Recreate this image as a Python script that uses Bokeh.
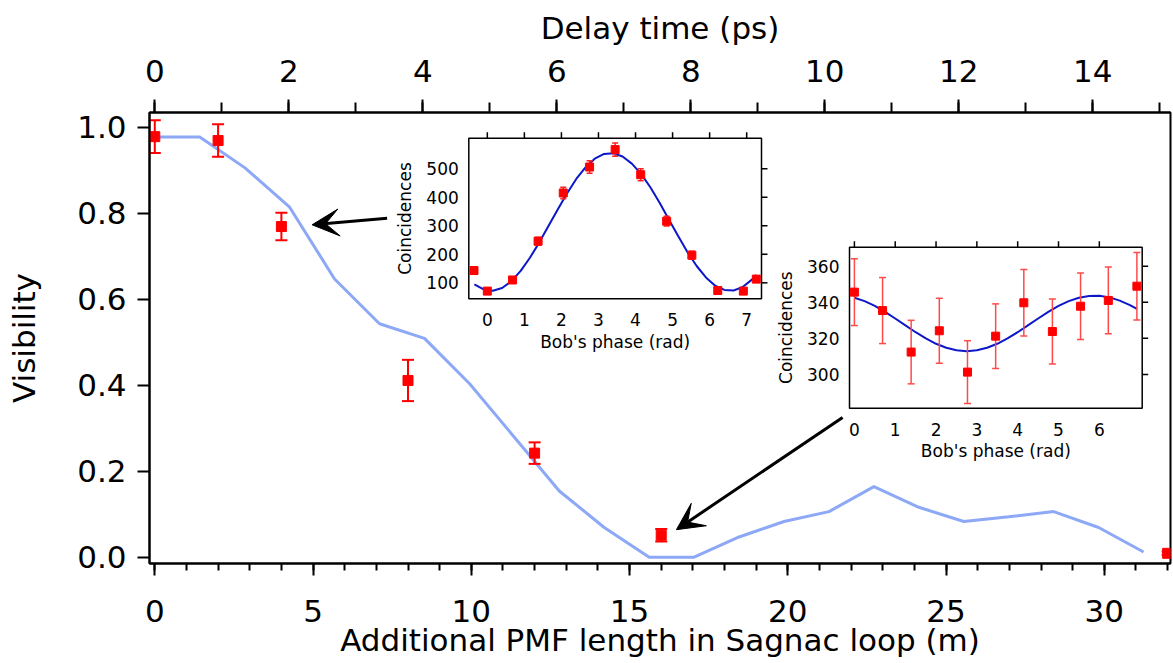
import math
from bokeh.plotting import figure
from bokeh.models import (LinearAxis, Range1d, FixedTicker, PrintfTickFormatter,
                          Arrow, VeeHead)
from bokeh.core.properties import value
from bokeh.embed import file_html
from bokeh.resources import INLINE

# ---------------- data ----------------
pmf_length_m = [0, 2, 4, 8, 12, 16, 32]
visibility = [0.978, 0.969, 0.769, 0.411, 0.242, 0.051, 0.009]
visibility_err = [0.038, 0.038, 0.032, 0.048, 0.025, 0.0145, 0.004]

theory_length_m = [0.0, 1.42, 2.84, 4.26, 5.68, 7.10, 8.52, 9.94, 11.36, 12.78,
                   14.20, 15.62, 17.04, 18.46, 19.88, 21.30, 22.72, 24.14,
                   25.56, 26.98, 28.40, 29.82, 31.24]
theory_visibility = [0.977, 0.977, 0.906, 0.814, 0.647, 0.543, 0.509, 0.404,
                     0.279, 0.154, 0.069, 0.0, 0.0, 0.047, 0.083, 0.106, 0.164,
                     0.116, 0.083, 0.094, 0.106, 0.069, 0.012]

delay_ps_per_m = 0.4724

main_x_ticks = [0, 5, 10, 15, 20, 25, 30]
main_x_minor = list(range(0, 33))
main_y_ticks = [0.0, 0.2, 0.4, 0.6, 0.8, 1.0]
delay_ticks = [0, 2, 4, 6, 8, 10, 12, 14]
delay_minor = list(range(0, 16))

# inset 1 (high visibility fringe)
inset1_phase = [-0.36, 0.0, 0.68, 1.37, 2.05, 2.76, 3.45, 4.14, 4.84, 5.52, 6.22, 6.91, 7.26]
inset1_counts = [143, 71, 110, 246, 415, 506, 567, 479, 316, 197, 73, 71, 113]
inset1_err = [12, 8, 10, 14, 20, 22, 23, 21, 17, 14, 8, 8, 10]
inset1_fit_phase = [-0.35, -0.1, 0.15, 0.4, 0.65, 0.9, 1.15, 1.4, 1.65, 1.9, 2.15,
                    2.4, 2.65, 2.9, 3.15, 3.4, 3.65, 3.9, 4.15, 4.4, 4.65, 4.9,
                    5.15, 5.4, 5.65, 5.9, 6.15, 6.4, 6.65, 6.9, 7.15, 7.26]
inset1_fit_counts = [95, 77, 72, 82, 106, 142, 188, 241, 299, 357, 413, 464, 505,
                     535, 552, 554, 543, 518, 482, 435, 381, 322, 264, 208, 159,
                     119, 90, 75, 73, 86, 112, 128]
inset1_x_ticks = [0, 1, 2, 3, 4, 5, 6, 7]
inset1_y_ticks = [100, 200, 300, 400, 500]
inset1_xlim = (-0.5, 7.4)
inset1_ylim = (44, 607)

# inset 2 (low visibility fringe)
inset2_phase = [0.0, 0.69, 1.39, 2.08, 2.77, 3.46, 4.15, 4.85, 5.54, 6.22, 6.92]
inset2_counts = [345.6, 335.4, 312.4, 324.2, 301.3, 321.2, 339.7, 323.8, 337.8, 341.0, 348.9]
inset2_err = [18.5, 18.3, 17.6, 18.0, 17.4, 17.9, 18.4, 18.0, 18.4, 18.5, 18.7]
inset2_fit_phase = [0.0, 0.25, 0.5, 0.75, 1.0, 1.25, 1.5, 1.75, 2.0, 2.25, 2.5,
                    2.75, 3.0, 3.25, 3.5, 3.75, 4.0, 4.25, 4.5, 4.75, 5.0, 5.25,
                    5.5, 5.75, 6.0, 6.25, 6.5, 6.75, 6.92]
inset2_fit_counts = [342.5, 340.6, 338.0, 334.7, 331.0, 327.2, 323.4, 320.0,
                     317.0, 314.8, 313.4, 312.9, 313.4, 314.8, 317.0, 320.0,
                     323.4, 327.2, 331.0, 334.7, 338.0, 340.6, 342.5, 343.5,
                     343.6, 342.7, 340.9, 338.4, 336.3]
inset2_x_ticks = [0, 1, 2, 3, 4, 5, 6]
inset2_y_ticks = [300, 320, 340, 360]
inset2_xlim = (-0.12, 7.05)
inset2_ylim = (281.3, 370.5)

# arrows (main data coordinates)
arrow1 = dict(x_start=7.34, y_start=0.788, x_end=4.97, y_end=0.773)
arrow2 = dict(x_start=21.73, y_start=0.325, x_end=16.48, y_end=0.064)

# ---------------- layout ----------------
W, H = 1173, 663
FL, FR, FT, FB = 149, 1170, 112, 563          # main frame in canvas px
MAIN_X = (-0.167, 32.09)
MAIN_Y = (-0.0147, 1.0342)
INSET1_BOX = (468.3, 761.0, 137.7, 298.3)     # left, right, top, bottom (canvas px)
INSET2_BOX = (849.0, 1141.7, 246.7, 407.7)

FONT = "DejaVu Sans"
RED = "#ff0000"

p = figure(width=W, height=H, output_backend="svg", toolbar_location=None,
           x_range=Range1d(*MAIN_X), y_range=Range1d(*MAIN_Y),
           min_border_left=FL, min_border_right=W - FR,
           min_border_top=FT, min_border_bottom=H - FB)
p.xgrid.visible = False
p.ygrid.visible = False
p.outline_line_color = "black"
p.outline_line_width = 2
p.background_fill_color = "white"
p.border_fill_color = "white"

p.extra_x_ranges = {"delay": Range1d(MAIN_X[0] * delay_ps_per_m, MAIN_X[1] * delay_ps_per_m)}


def style_axis(ax, label, tick_out, minor_out, label_standoff, title_standoff):
    ax.axis_label = label
    ax.axis_line_width = 2
    ax.axis_line_color = "black"
    ax.major_tick_out = tick_out
    ax.major_tick_in = 0
    ax.minor_tick_out = minor_out
    ax.minor_tick_in = 0
    ax.major_tick_line_width = 2
    ax.minor_tick_line_width = 2
    ax.major_label_text_font = FONT
    ax.major_label_text_font_size = "31px"
    ax.major_label_text_color = "black"
    ax.major_label_standoff = label_standoff
    ax.axis_label_text_font = FONT
    ax.axis_label_text_font_size = "31px"
    ax.axis_label_text_font_style = "normal"
    ax.axis_label_text_color = "black"
    ax.axis_label_standoff = title_standoff


xb = p.xaxis[0]
xb.ticker = FixedTicker(ticks=main_x_ticks, minor_ticks=main_x_minor)
style_axis(xb, "Additional PMF length in Sagnac loop (m)", 12, 7, 24, -3)

yl = p.yaxis[0]
yl.ticker = FixedTicker(ticks=main_y_ticks, minor_ticks=[])
yl.formatter = PrintfTickFormatter(format="%.1f")
style_axis(yl, "Visibility", 12, 0, 11, 32)

xt = LinearAxis(x_range_name="delay")
xt.ticker = FixedTicker(ticks=delay_ticks, minor_ticks=delay_minor)
style_axis(xt, "Delay time (ps)", 13, 10, 18, 11)
p.add_layout(xt, "above")

# ---------------- main glyphs ----------------
p.line(theory_length_m, theory_visibility, line_color="#8ca8f6", line_width=3)

lo = [v - e for v, e in zip(visibility, visibility_err)]
hi = [v + e for v, e in zip(visibility, visibility_err)]
p.segment(x0=pmf_length_m, y0=lo, x1=pmf_length_m, y1=hi, line_color=RED, line_width=2)
p.scatter(pmf_length_m + pmf_length_m, lo + hi, marker="dash", size=12,
          line_color=RED, line_width=2)
p.scatter(pmf_length_m, visibility, marker="square", size=10,
          fill_color=RED, line_color=RED)


# ---------------- insets ----------------
def extend(lo_v, hi_v, p_lo, p_hi, f_lo, f_hi):
    scale = (hi_v - lo_v) / (p_hi - p_lo)
    return Range1d(lo_v - (p_lo - f_lo) * scale, hi_v + (f_hi - p_hi) * scale)


def draw_inset(name, box, xlim, ylim, xticks, yticks, phase, counts, err,
               fit_x, fit_y, err_color, cap):
    bl, br, bt, bb = box
    xr = extend(xlim[0], xlim[1], bl, br, FL, FR)
    scale = (ylim[1] - ylim[0]) / (bb - bt)
    yr = Range1d(ylim[0] - (FB - bb) * scale, ylim[1] + (bt - FT) * scale)
    p.extra_x_ranges[name + "x"] = xr
    p.extra_y_ranges[name + "y"] = yr
    kw = dict(x_range_name=name + "x", y_range_name=name + "y")

    p.quad(left=[xlim[0]], right=[xlim[1]], bottom=[ylim[0]], top=[ylim[1]],
           fill_color="white", line_color="black", line_width=1.5, **kw)
    p.ray(x=xticks, y=[ylim[1]] * len(xticks), length=6, length_units="screen",
          angle=math.pi / 2, line_color="black", line_width=1.5, **kw)
    p.ray(x=[xlim[1]] * len(yticks), y=yticks, length=6, length_units="screen",
          angle=0, line_color="black", line_width=1.5, **kw)

    p.line(fit_x, fit_y, line_color="#0c18c8", line_width=2, **kw)
    elo = [c - e for c, e in zip(counts, err)]
    ehi = [c + e for c, e in zip(counts, err)]
    p.segment(x0=phase, y0=elo, x1=phase, y1=ehi, line_color=err_color,
              line_width=1.5, **kw)
    p.scatter(phase + phase, elo + ehi, marker="dash", size=cap,
              line_color=err_color, line_width=1.5, **kw)
    p.scatter(phase, counts, marker="square", size=8, fill_color=RED,
              line_color=RED, **kw)

    tf = dict(text_font=value(FONT), text_font_size=value("17px"), text_color="black")
    p.text(x=xticks, y=[ylim[0]] * len(xticks), text=[str(t) for t in xticks],
           text_align="center", text_baseline="middle", y_offset=21, **tf, **kw)
    p.text(x=[xlim[0]] * len(yticks), y=yticks, text=[str(t) for t in yticks],
           text_align="right", text_baseline="middle", x_offset=-10, **tf, **kw)
    p.text(x=[(xlim[0] + xlim[1]) / 2], y=[ylim[0]], text=["Bob's phase (rad)"],
           text_align="center", text_baseline="middle", y_offset=43, **tf, **kw)
    p.text(x=[xlim[0]], y=[(ylim[0] + ylim[1]) / 2], text=["Coincidences"],
           angle=math.pi / 2, text_align="center", text_baseline="middle",
           x_offset=-64, **tf, **kw)


draw_inset("i1", INSET1_BOX, inset1_xlim, inset1_ylim, inset1_x_ticks, inset1_y_ticks,
           inset1_phase, inset1_counts, inset1_err, inset1_fit_phase, inset1_fit_counts,
           "#ff2020", 6)
draw_inset("i2", INSET2_BOX, inset2_xlim, inset2_ylim, inset2_x_ticks, inset2_y_ticks,
           inset2_phase, inset2_counts, inset2_err, inset2_fit_phase, inset2_fit_counts,
           "#ff4a4a", 7)

# ---------------- arrows ----------------
for a in (arrow1, arrow2):
    p.add_layout(Arrow(end=VeeHead(size=27, fill_color="black", line_color="black",
                                   line_width=1),
                       line_color="black", line_width=3, **a))

open("out.html", "w").write(file_html(p, INLINE))
